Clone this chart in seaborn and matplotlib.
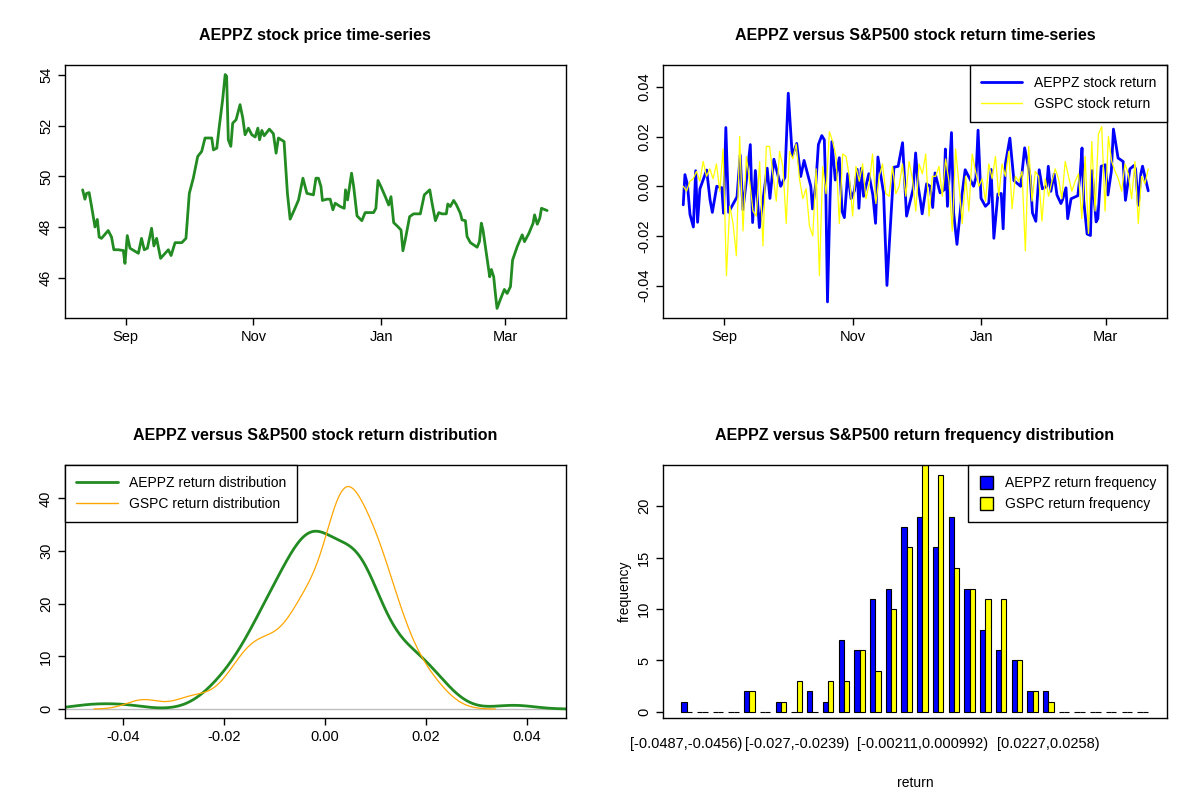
import numpy as np
import pandas as pd
import matplotlib
matplotlib.use("Agg")
import matplotlib.pyplot as plt
import matplotlib.dates as mdates
from matplotlib.patches import Patch
from matplotlib.lines import Line2D
import seaborn as sns

sns.set_theme(style="white")
plt.rcParams["font.family"] = ["Liberation Sans", "DejaVu Sans"]
plt.rcParams["text.color"] = "black"
plt.rcParams["axes.labelcolor"] = "black"

# AEPPZ closing price: days after 2014-09-01, price
price_days = [-20.5, -19.4, -18.6, -17.4, -16.2, -14.6, -13.5, -12.6, -11.5, -8.3, -6.7, -5.6, -3.5, -1.1, -0.3,
              0.8, 2.1, 6.1, 7.6, 8.9, 10.4, 12.4, 13.5, 14.8, 16.7, 20.4, 21.7, 23.6, 26.8, 28.8, 30.4, 32.3,
              34.4, 36.3, 37.9, 41.1, 41.9, 43.5, 44.7, 46.3, 47.5, 48.2, 49.0, 50.2, 51.1, 52.7, 54.6, 55.9,
              57.0, 58.6, 60.2, 61.8, 63.1, 63.9, 65.0, 66.1, 68.6, 70.5, 71.8, 72.9, 75.6, 77.2, 78.5, 80.5,
              82.5, 84.6, 86.5, 89.6, 90.8, 92.0, 93.2, 93.9, 96.0, 97.6, 98.9, 100.0, 102.4, 104.3, 104.9,
              105.9, 107.8, 108.8, 110.4, 112.7, 114.3, 118.3, 119.4, 120.4, 121.8, 123.9, 125.5, 126.6, 127.9,
              129.8, 131.4, 132.3, 133.4, 135.5, 137.4, 140.6, 142.5, 145.1, 146.2, 147.8, 149.4, 150.9, 153.0,
              153.7, 154.9, 156.5, 157.8, 159.7, 160.5, 162.1, 162.9, 164.5, 167.7, 168.8, 169.7, 170.5, 172.1,
              173.7, 174.5, 175.6, 176.4, 177.2, 178.8, 180.7, 182.0, 183.6, 184.6, 186.8, 189.2, 190.3, 192.4,
              194.4, 195.1, 196.4, 197.6, 198.4, 201.1]
price = [49.47, 49.1, 49.33, 49.36, 48.8, 48.0, 48.3, 47.6, 47.55, 47.86, 47.6, 47.1, 47.1, 47.07, 46.56,
         47.66, 47.16, 46.96, 47.55, 47.1, 47.16, 47.95, 47.25, 47.55, 46.76, 47.1, 46.87, 47.38, 47.38, 47.55,
         49.33, 49.93, 50.79, 50.99, 51.52, 51.52, 51.05, 51.12, 51.98, 53.04, 54.03, 53.96, 51.45, 51.19,
         52.11, 52.24, 52.84, 52.31, 51.65, 51.91, 51.65, 51.56, 51.91, 51.45, 51.82, 51.61, 51.87, 51.69,
         50.92, 51.52, 51.38, 49.33, 48.31, 48.68, 49.07, 49.93, 49.33, 49.27, 49.93, 49.93, 49.6, 49.05,
         49.1, 49.1, 48.68, 48.94, 48.81, 48.74, 49.47, 49.07, 50.13, 49.6, 48.44, 48.25, 48.57, 48.57, 48.74,
         49.84, 49.6, 49.2, 48.87, 49.2, 48.17, 48.02, 47.88, 47.06, 47.49, 48.41, 48.52, 48.52, 49.27, 49.47,
         48.94, 48.25, 48.57, 48.52, 48.52, 48.91, 48.81, 49.05, 48.88, 48.54, 48.28, 48.25, 47.62, 47.38,
         47.2, 47.42, 48.15, 47.88, 46.96, 46.03, 46.32, 46.03, 45.37, 44.78, 45.14, 45.53, 45.37, 45.64,
         46.69, 47.22, 47.69, 47.42, 47.75, 48.15, 48.48, 48.11, 48.35, 48.74, 48.65]

# S&P500 (GSPC) daily returns over the same window
gspc_ret = [0.000, -0.002, 0.002, 0.003, 0.006, 0.002, 0.010, 0.004, 0.007, 0.003, 0.009, -0.002, 0.015,
            -0.036, -0.008, -0.015, -0.028, 0.020, -0.018, 0.012, 0.002, -0.010, -0.012, 0.010, -0.024, 0.016,
            0.016, 0.005, -0.006, 0.014, 0.008, -0.015, 0.014, 0.011, 0.017, 0.003, -0.005, -0.001, -0.016,
            -0.020, 0.007, -0.036, 0.008, -0.003, 0.022, 0.018, 0.012, -0.015, 0.013, 0.012, 0.004, -0.012,
            0.008, 0.002, 0.009, -0.005, 0.001, 0.013, -0.007, 0.004, 0.009, -0.003, -0.004, 0.008, -0.003,
            0.000, 0.009, -0.004, 0.010, 0.003, -0.010, 0.009, 0.005, 0.013, -0.012, 0.004, 0.004, 0.008,
            -0.004, 0.011, 0.002, -0.018, 0.015, 0.001, -0.015, 0.004, -0.010, 0.013, 0.006, 0.000, 0.003,
            -0.006, 0.009, 0.003, 0.012, -0.004, 0.009, 0.004, 0.014, -0.009, 0.004, 0.002, 0.006, -0.026,
            0.016, -0.006, 0.006, 0.004, -0.014, 0.003, -0.004, 0.002, 0.007, 0.003, -0.005, 0.010, 0.004,
            -0.002, 0.002, 0.005, -0.013, 0.012, -0.019, 0.018, -0.010, 0.021, 0.024, -0.010, 0.020, 0.010,
            0.006, 0.003, -0.002, 0.009, 0.005, -0.005, 0.010, -0.015, 0.004, 0.001, 0.007]

# frequency table of returns
bin_labels = ["[-0.0487,-0.0456)", "[-0.027,-0.0239)", "[-0.00211,0.000992)", "[0.0227,0.0258)"]
bin_label_pos = [0, 7, 15, 23]
aeppz_freq = [1, 0, 0, 0, 2, 0, 1, 0, 2, 1, 7, 6, 11, 12, 18, 19, 16, 19, 12, 8, 6, 5, 2, 2, 0, 0, 0, 0, 0, 0]
gspc_freq = [0, 0, 0, 0, 2, 0, 1, 3, 0, 3, 3, 6, 4, 10, 16, 24, 23, 14, 12, 11, 11, 5, 2, 1, 0, 0, 0, 0, 0, 0]

start = pd.Timestamp("2014-09-01")
dates = [start + pd.Timedelta(days=d) for d in price_days]
price_s = pd.Series(price, index=dates)
aeppz_ret = price_s.pct_change().dropna()
gspc_dates = pd.to_datetime(np.linspace(aeppz_ret.index[0].value, aeppz_ret.index[-1].value, len(gspc_ret)))

fig = plt.figure(figsize=(12, 8), dpi=100)
ax1 = fig.add_axes([0.054, 0.6025, 0.4175, 0.316])
ax2 = fig.add_axes([0.5525, 0.6025, 0.42, 0.316])
ax3 = fig.add_axes([0.054, 0.1025, 0.4175, 0.316])
ax4 = fig.add_axes([0.5525, 0.1025, 0.42, 0.316])

xlo = start + pd.Timedelta(days=-29)
xhi = start + pd.Timedelta(days=210)


def r_style(ax):
    for s in ax.spines.values():
        s.set_color("black")
        s.set_linewidth(1)
    ax.tick_params(axis="both", which="both", direction="out", length=5, width=1, colors="black",
                   labelsize=10.5, left=True, bottom=True)
    for lab in ax.get_yticklabels():
        lab.set_rotation(90)
        lab.set_va("center")
    ax.grid(False)


# 1. price
sns.lineplot(x=price_s.index, y=price_s.values, ax=ax1, color="#228B22", linewidth=2)
ax1.set_xlim(xlo, xhi)
ax1.set_ylim(44.4, 54.4)
ax1.set_yticks([46, 48, 50, 52, 54])
ax1.xaxis.set_major_locator(mdates.MonthLocator(bymonth=[9, 11, 1, 3]))
ax1.xaxis.set_major_formatter(mdates.DateFormatter("%b"))
ax1.set_xlabel("")
ax1.set_title("AEPPZ stock price time-series", fontweight="bold", fontsize=11.5, pad=18)
r_style(ax1)

# 2. returns
sns.lineplot(x=aeppz_ret.index, y=aeppz_ret.values, ax=ax2, color="blue", linewidth=2)
sns.lineplot(x=gspc_dates, y=gspc_ret, ax=ax2, color="yellow", linewidth=0.9)
ax2.set_xlim(xlo, xhi)
ax2.set_ylim(-0.053, 0.0487)
ax2.set_yticks([-0.04, -0.02, 0.0, 0.02, 0.04])
ax2.set_yticklabels(["-0.04", "-0.02", "0.00", "0.02", "0.04"])
ax2.xaxis.set_major_locator(mdates.MonthLocator(bymonth=[9, 11, 1, 3]))
ax2.xaxis.set_major_formatter(mdates.DateFormatter("%b"))
ax2.set_xlabel("")
ax2.set_title("AEPPZ versus S&P500 stock return time-series", fontweight="bold", fontsize=11.5, pad=18)
ax2.legend(handles=[Line2D([], [], color="blue", lw=2), Line2D([], [], color="yellow", lw=1)],
           labels=["AEPPZ stock return", "GSPC stock return"], loc="upper right", fancybox=False,
           edgecolor="black", framealpha=1, fontsize=10, borderaxespad=0, handlelength=3,
           borderpad=0.8)
r_style(ax2)


def nrd0(x):
    x = np.asarray(x)
    sd = x.std(ddof=1)
    iqr = np.subtract(*np.percentile(x, [75, 25]))
    return 0.9 * min(sd, iqr / 1.34) / sd * len(x) ** -0.2


# 3. density
ax3.axhline(0, color="#BEBEBE", linewidth=1)
sns.kdeplot(x=aeppz_ret.values, ax=ax3, color="#228B22", linewidth=2, bw_method=nrd0(aeppz_ret.values) * 1.15,
            cut=3, gridsize=512)
sns.kdeplot(x=gspc_ret, ax=ax3, color="orange", linewidth=0.9, bw_method=nrd0(gspc_ret), cut=3, gridsize=512)
ax3.set_xlim(-0.0515, 0.0477)
ax3.set_ylim(-1.7, 46.3)
ax3.set_yticks([0, 10, 20, 30, 40])
ax3.set_xticks([-0.04, -0.02, 0.0, 0.02, 0.04])
ax3.set_xticklabels(["-0.04", "-0.02", "0.00", "0.02", "0.04"])
ax3.set_ylabel("")
ax3.set_title("AEPPZ versus S&P500 stock return distribution", fontweight="bold", fontsize=11.5, pad=18)
ax3.legend(handles=[Line2D([], [], color="#228B22", lw=2), Line2D([], [], color="orange", lw=1)],
           labels=["AEPPZ return distribution", "GSPC return distribution"], loc="upper left",
           fancybox=False, edgecolor="black", framealpha=1, fontsize=10, borderaxespad=0, handlelength=3,
           borderpad=0.8)
r_style(ax3)

# 4. frequency bars
n = len(aeppz_freq)
freq_df = pd.DataFrame({
    "bin": list(range(n)) * 2,
    "freq": aeppz_freq + gspc_freq,
    "series": ["AEPPZ"] * n + ["GSPC"] * n,
})
sns.barplot(data=freq_df, x="bin", y="freq", hue="series", palette={"AEPPZ": "blue", "GSPC": "yellow"},
            ax=ax4, width=0.67, edgecolor="black", linewidth=0.8, legend=False, saturation=1)
ax4.set_xlim(-1.5, n + 0.55)
ax4.set_ylim(-0.6, 24)
ax4.set_yticks([0, 5, 10, 15, 20])
ax4.set_xticks(bin_label_pos)
ax4.set_xticklabels(bin_labels)
ax4.set_xlabel("return", fontsize=10, labelpad=18)
ax4.set_ylabel("frequency", fontsize=10)
ax4.set_title("AEPPZ versus S&P500 return frequency distribution", fontweight="bold", fontsize=11.5, pad=18)
ax4.legend(handles=[Patch(facecolor="blue", edgecolor="black"), Patch(facecolor="yellow", edgecolor="black")],
           labels=["AEPPZ return frequency", "GSPC return frequency"], loc="upper right", fancybox=False,
           edgecolor="black", framealpha=1, fontsize=10, borderaxespad=0, handlelength=1, handleheight=1,
           borderpad=0.8)
r_style(ax4)
ax4.tick_params(axis="x", length=0, pad=14)

fig.savefig("out.png", dpi=100)
